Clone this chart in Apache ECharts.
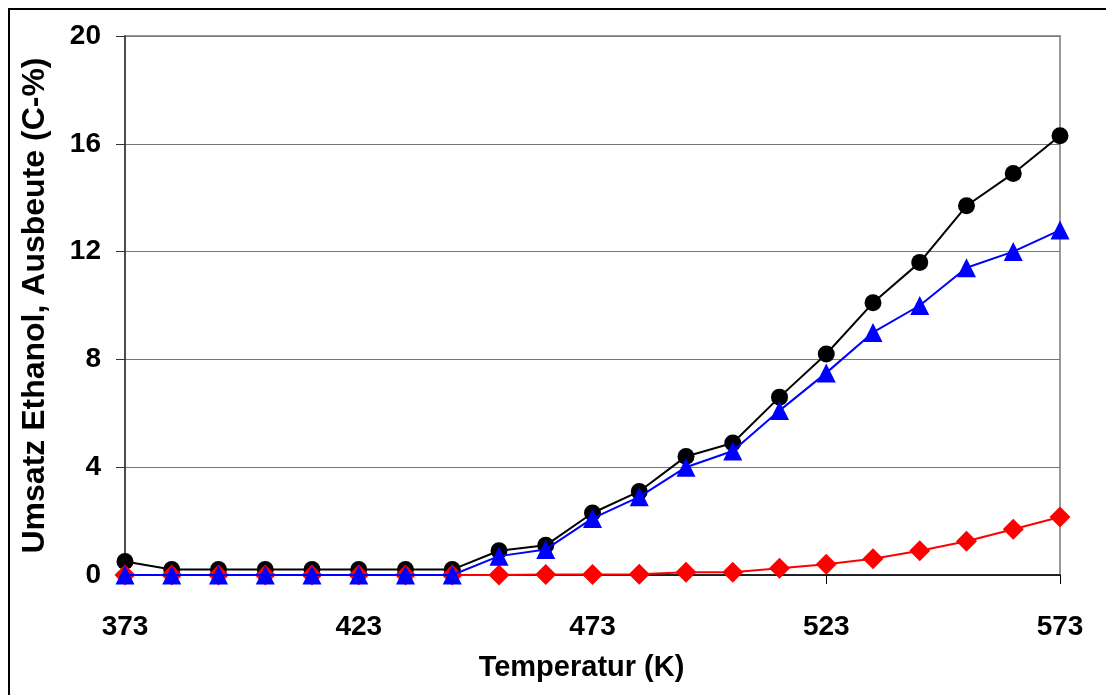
<!DOCTYPE html>
<html>
<head>
<meta charset="utf-8">
<script src="https://cdn.jsdelivr.net/npm/echarts@6/dist/echarts.min.js"></script>
<style>
html,body{margin:0;padding:0;background:#fff;}
#c{width:1106px;height:695px;}
</style>
</head>
<body>
<div id="c"></div>
<script>
var temps = [373,383,393,403,413,423,433,443,453,463,473,483,493,503,513,523,533,543,553,563,573];
var umsatz = [0.5,0.2,0.2,0.2,0.2,0.2,0.2,0.2,0.9,1.1,2.3,3.1,4.4,4.9,6.6,8.2,10.1,11.6,13.7,14.9,16.3];
var ausbeuteBlau = [0,0,0,0,0,0,0,0,0.7,0.95,2.1,2.9,4.0,4.6,6.1,7.5,9.0,10.0,11.4,12.0,12.8];
var ausbeuteRot = [0,0,0,0,0,0,0,0,0,0.02,0.02,0.03,0.1,0.1,0.25,0.4,0.6,0.9,1.25,1.7,2.15];
var xTicks = [373,423,473,523,573];
var yTicks = [0,4,8,12,16,20];

function pairs(v){ return temps.map(function(t,i){ return [t, v[i]]; }); }

var chart = echarts.init(document.getElementById('c'));
var font = '"Liberation Sans", Arial, sans-serif';
chart.setOption({
  animation: false,
  backgroundColor: '#fff',
  graphic: [{
    type: 'rect',
    shape: {x: 9, y: 9, width: 1200, height: 800},
    style: {fill: 'none', stroke: '#000', lineWidth: 2},
    silent: true
  }],
  grid: {left: 125, right: 46, top: 36, bottom: 120, show: true, borderColor: '#999', borderWidth: 2, backgroundColor: 'transparent'},
  xAxis: {
    type: 'value', min: 373, max: 573, interval: 50,
    name: 'Temperatur (K)', nameLocation: 'middle', nameGap: 78,
    nameTextStyle: {fontFamily: font, fontWeight: 'bold', fontSize: 29, color: '#000', padding: [0, 22, 0, 0]},
    axisLine: {show: true, onZero: false, lineStyle: {color: '#000', width: 1.5}},
    axisTick: {show: true, length: 9, lineStyle: {color: '#000'}},
    axisLabel: {margin: 38, fontFamily: font, fontWeight: 'bold', fontSize: 28, color: '#000',
      formatter: function(v){ return xTicks.indexOf(v) >= 0 ? String(v) : ''; }},
    splitLine: {show: false}
  },
  yAxis: {
    type: 'value', min: 0, max: 20, interval: 4,
    name: 'Umsatz Ethanol, Ausbeute (C-%)', nameLocation: 'middle', nameGap: 74,
    nameTextStyle: {fontFamily: font, fontWeight: 'bold', fontSize: 32, color: '#000'},
    axisLine: {show: true, lineStyle: {color: '#333', width: 1.5}},
    axisTick: {show: true, length: 9, lineStyle: {color: '#333'}},
    axisLabel: {margin: 24, fontFamily: font, fontWeight: 'bold', fontSize: 28, color: '#000',
      formatter: function(v){ return yTicks.indexOf(v) >= 0 ? String(v) : ''; }},
    splitLine: {show: true, lineStyle: {color: '#777', width: 1.2}}
  },
  series: [
    {type: 'line', data: pairs(umsatz), symbol: 'circle', symbolSize: 17,
     lineStyle: {color: '#000', width: 2}, itemStyle: {color: '#000'}, z: 2},
    {type: 'line', data: pairs(ausbeuteRot), symbol: 'diamond', symbolSize: 21,
     lineStyle: {color: '#ff0000', width: 2}, itemStyle: {color: '#ff0000'}, z: 3},
    {type: 'line', data: pairs(ausbeuteBlau), symbol: 'triangle', symbolSize: 19,
     lineStyle: {color: '#0000ff', width: 2}, itemStyle: {color: '#0000ff'}, z: 4}
  ]
});
</script>
</body>
</html>
